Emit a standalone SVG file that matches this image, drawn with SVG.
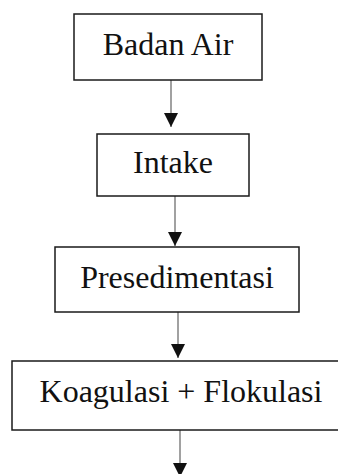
<svg xmlns="http://www.w3.org/2000/svg" width="338" height="474" viewBox="0 0 338 474">
<style>
.box{fill:#fff;stroke:#1a1a1a;stroke-width:1.5}
.lbl{font-family:"Liberation Serif","Times New Roman",serif;font-size:32px;fill:#111;text-anchor:middle}
.line{stroke:#8a8a8a;stroke-width:1.6;fill:none}
</style>
<defs>
<marker id="ah" markerUnits="userSpaceOnUse" markerWidth="14" markerHeight="14" refX="7" refY="14" orient="0" viewBox="0 0 14 14">
<polygon points="0,0 14,0 7,14" fill="#111"/>
</marker>
</defs>
<rect width="338" height="474" fill="#fff"/>
<g id="connectors">
<line class="line" x1="171" y1="80" x2="171" y2="127" marker-end="url(#ah)"/>
<line class="line" x1="175" y1="196" x2="175" y2="246" marker-end="url(#ah)"/>
<line class="line" x1="178" y1="312" x2="178" y2="358" marker-end="url(#ah)"/>
<line class="line" x1="180" y1="430" x2="180" y2="477" marker-end="url(#ah)"/>
</g>
<g id="badan-air">
<rect class="box" x="74" y="14" width="188" height="66"/>
<text class="lbl" x="168" y="55">Badan Air</text>
</g>
<g id="intake">
<rect class="box" x="97" y="134" width="152" height="62"/>
<text class="lbl" x="173" y="173">Intake</text>
</g>
<g id="presedimentasi">
<rect class="box" x="55" y="247" width="244" height="65"/>
<text class="lbl" x="177" y="288">Presedimentasi</text>
</g>
<g id="koagulasi-flokulasi">
<rect class="box" x="12" y="361" width="340" height="69"/>
<text class="lbl" x="181" y="401.5">Koagulasi + Flokulasi</text>
</g>
</svg>
